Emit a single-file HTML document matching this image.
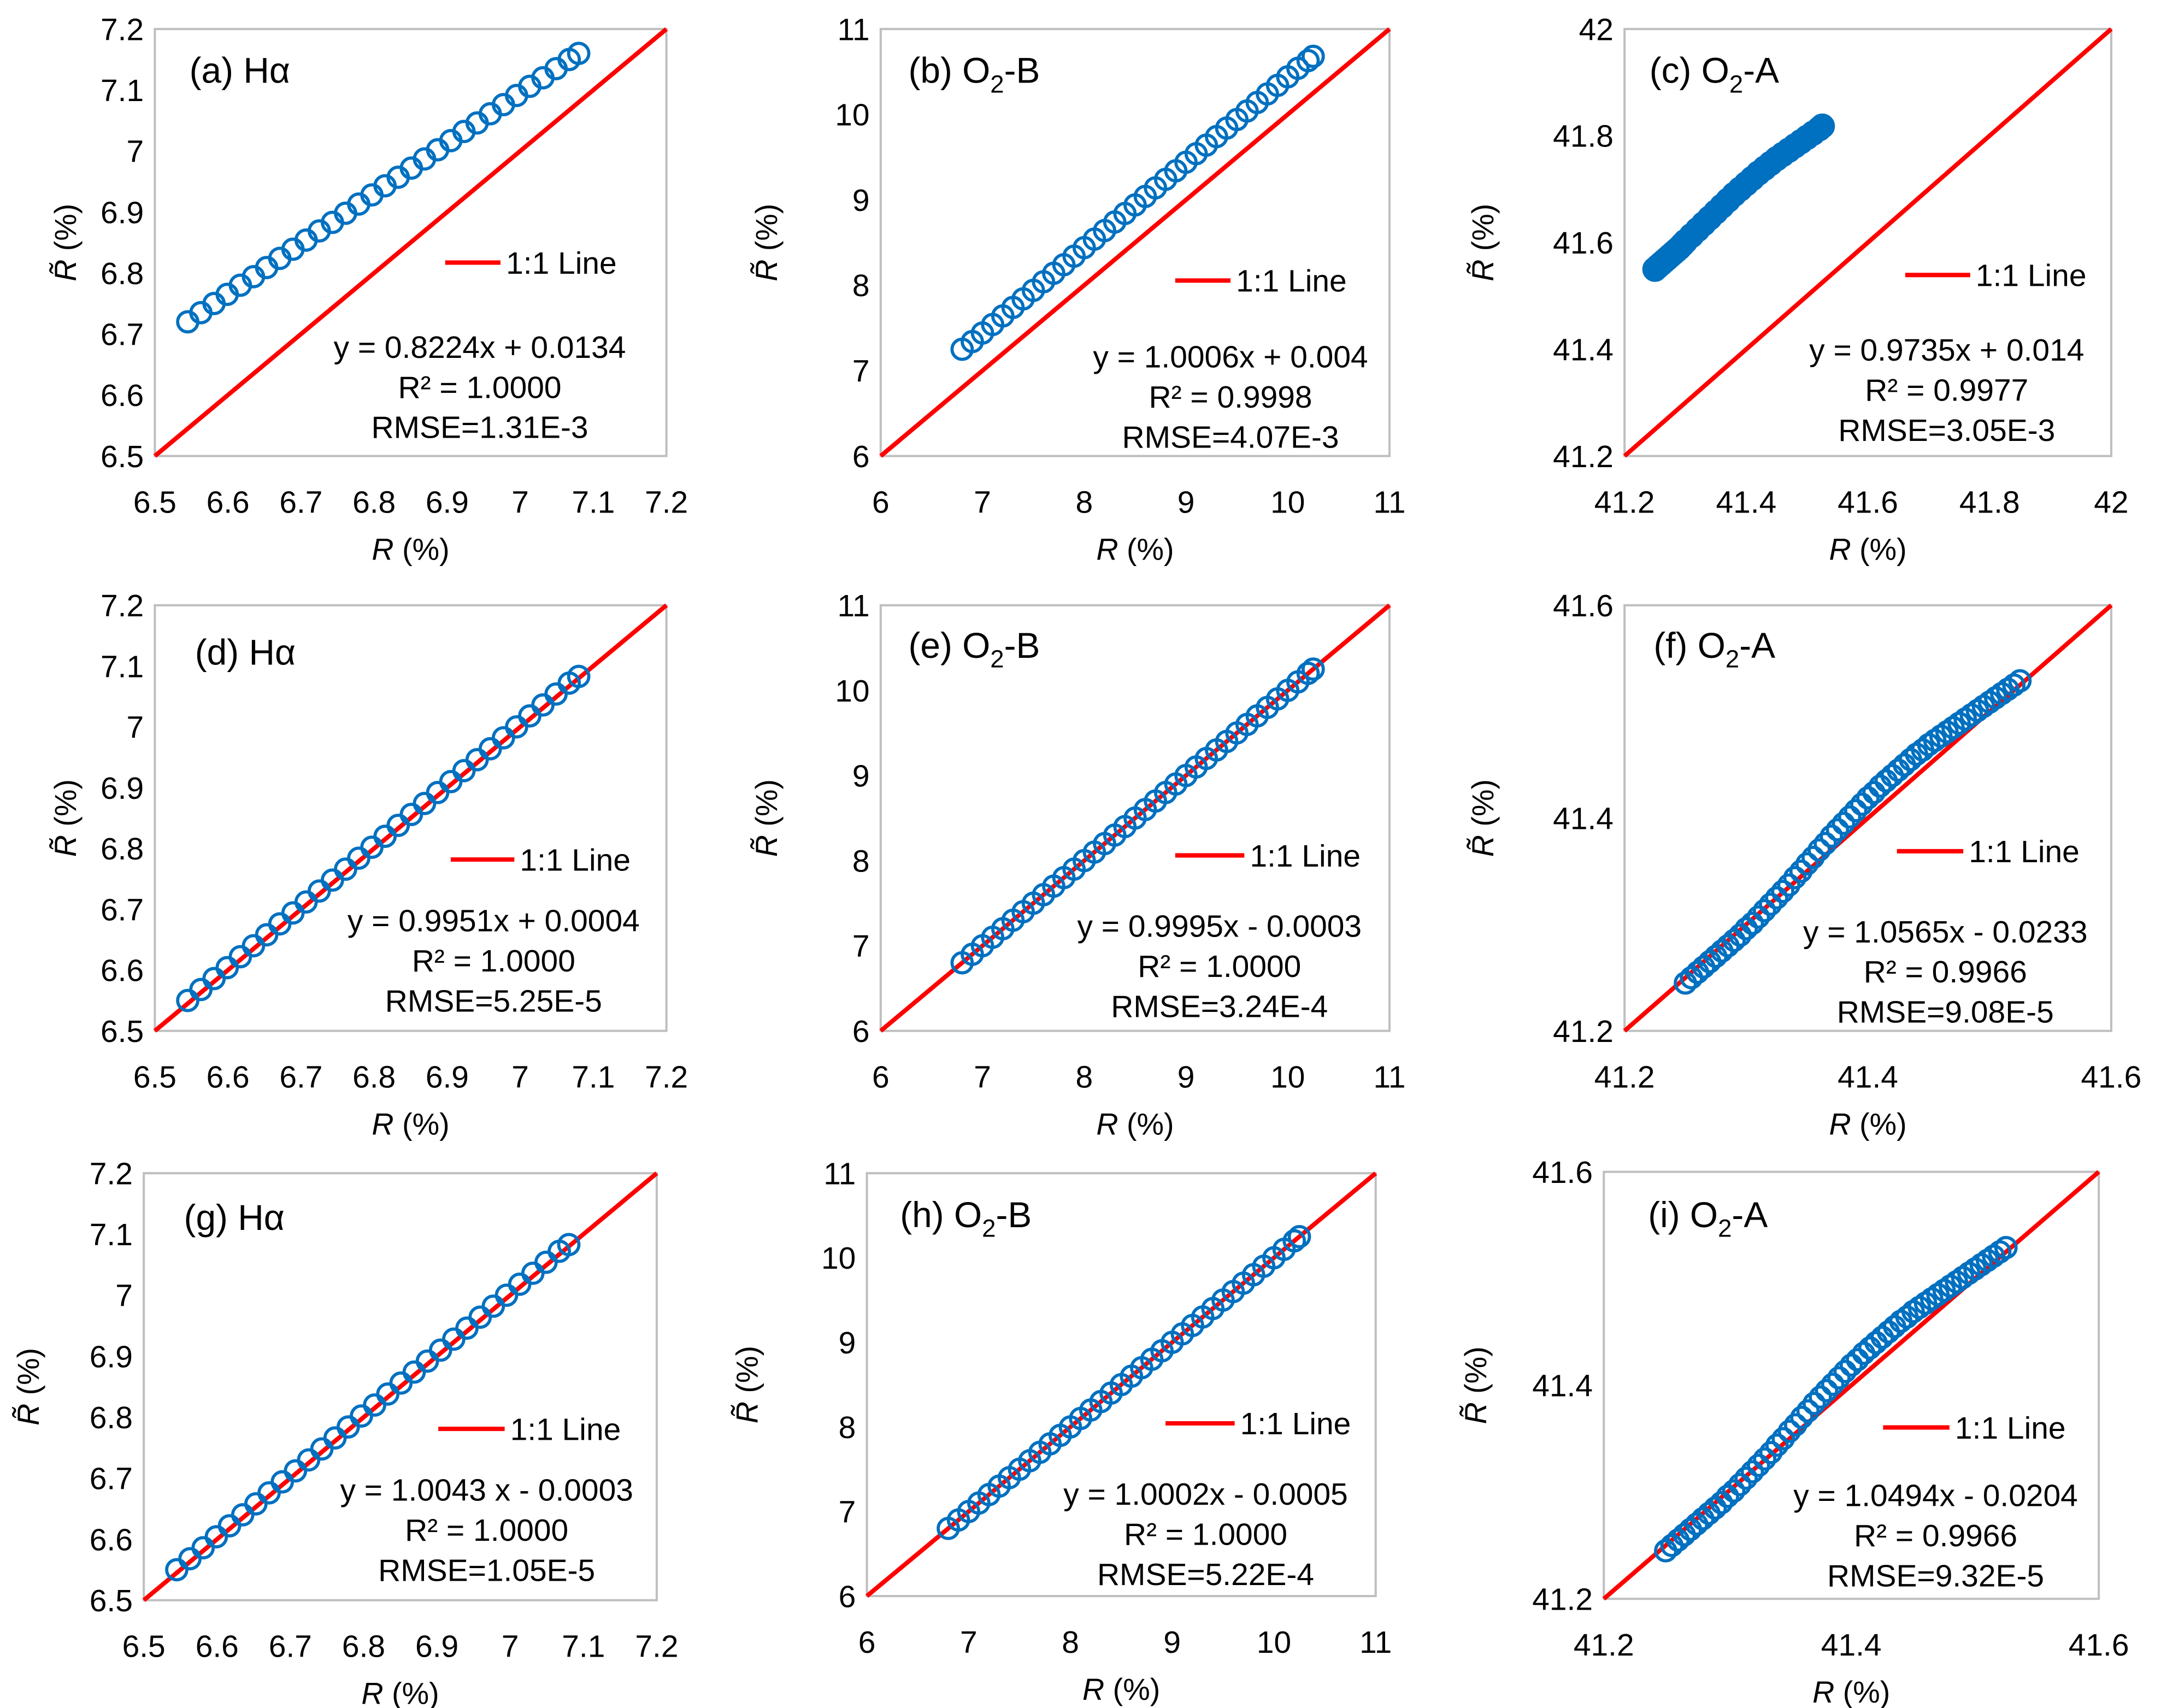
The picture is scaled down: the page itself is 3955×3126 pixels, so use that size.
<!DOCTYPE html>
<html><head><meta charset="utf-8"><style>
html,body{margin:0;padding:0;background:#fff;}
svg{display:block;}
text{font-family:"Liberation Sans","DejaVu Sans",sans-serif;fill:#000;}
</style></head><body>
<svg id="fig" width="3955" height="3126" viewBox="0 0 1563 1236" preserveAspectRatio="none" xmlns="http://www.w3.org/2000/svg"></svg>
<script>
// ---- data ----
const aX=[6.545,6.563,6.581,6.599,6.617,6.635,6.653,6.671,6.689,6.707,6.725,6.743,6.761,6.779,6.797,6.815,6.833,6.851,6.869,6.887,6.905,6.923,6.941,6.959,6.977,6.995,7.013,7.031,7.049,7.067,7.08];
const aY=[6.720,6.735,6.750,6.765,6.780,6.794,6.809,6.824,6.839,6.854,6.869,6.883,6.898,6.913,6.928,6.943,6.957,6.972,6.987,7.002,7.017,7.032,7.046,7.061,7.076,7.091,7.106,7.120,7.135,7.150,7.160];
const bX=[6.8,6.9,7.0,7.1,7.2,7.3,7.4,7.5,7.6,7.7,7.8,7.9,8.0,8.1,8.2,8.3,8.4,8.5,8.6,8.7,8.8,8.9,9.0,9.1,9.2,9.3,9.4,9.5,9.6,9.7,9.8,9.9,10.0,10.1,10.2,10.25];
const bY=[7.25,7.34,7.44,7.54,7.64,7.74,7.84,7.94,8.04,8.14,8.24,8.34,8.44,8.54,8.64,8.74,8.84,8.94,9.04,9.14,9.24,9.34,9.44,9.54,9.64,9.74,9.84,9.94,10.04,10.14,10.24,10.34,10.44,10.54,10.63,10.68];
const cX=[41.250,41.255,41.260,41.265,41.270,41.275,41.280,41.285,41.290,41.295,41.300,41.310,41.320,41.330,41.340,41.350,41.360,41.370,41.380,41.390,41.400,41.410,41.420,41.430,41.440,41.450,41.460,41.470,41.480,41.490,41.500,41.510,41.520,41.525];
const cY=[41.550,41.555,41.560,41.565,41.570,41.575,41.580,41.585,41.590,41.596,41.602,41.613,41.624,41.635,41.646,41.657,41.668,41.679,41.690,41.700,41.710,41.720,41.730,41.739,41.748,41.757,41.765,41.773,41.781,41.789,41.797,41.805,41.813,41.818];
const dX=aX.slice();
const dY=[6.550,6.568,6.586,6.604,6.622,6.640,6.658,6.676,6.694,6.712,6.730,6.748,6.766,6.784,6.802,6.820,6.838,6.856,6.874,6.892,6.910,6.928,6.946,6.964,6.982,7.000,7.018,7.036,7.054,7.072,7.083];
const eX=bX.slice();
const eY=[6.8,6.9,7.0,7.1,7.2,7.3,7.4,7.5,7.6,7.7,7.8,7.9,8.0,8.1,8.2,8.3,8.4,8.5,8.6,8.7,8.8,8.9,9.0,9.1,9.2,9.3,9.4,9.5,9.6,9.7,9.8,9.9,10.0,10.1,10.2,10.25];
const fX=[41.250,41.255,41.260,41.265,41.270,41.275,41.280,41.285,41.290,41.295,41.300,41.305,41.310,41.315,41.320,41.325,41.330,41.335,41.340,41.345,41.350,41.355,41.360,41.365,41.370,41.375,41.380,41.385,41.390,41.395,41.400,41.405,41.410,41.415,41.420,41.425,41.430,41.435,41.440,41.445,41.450,41.455,41.460,41.465,41.470,41.475,41.480,41.485,41.490,41.495,41.500,41.505,41.510,41.515,41.520,41.525];
const fY=[41.245,41.250,41.255,41.260,41.265,41.270,41.275,41.280,41.285,41.290,41.296,41.301,41.307,41.313,41.319,41.325,41.331,41.337,41.344,41.350,41.357,41.363,41.370,41.376,41.383,41.389,41.395,41.401,41.407,41.413,41.419,41.424,41.430,41.435,41.440,41.445,41.450,41.455,41.460,41.464,41.469,41.473,41.477,41.481,41.485,41.489,41.493,41.497,41.501,41.505,41.509,41.513,41.517,41.521,41.525,41.529];
const gX=aX.slice();
const gY=dY.slice();
const hX=bX.slice();
const hY=eY.slice();
const iX=fX.slice();
const iY=fY.slice();
// ---- ticks ----
const tickH=["6.5","6.6","6.7","6.8","6.9","7","7.1","7.2"];
const tickB=["6","7","8","9","10","11"];
const tickC=["41.2","41.4","41.6","41.8","42"];
const tickF=["41.2","41.4","41.6"];

const panels=[
 {id:"a",lab:"(a) Hα",L:112,R:482,T:21,B:330,tk:tickH,xs:aX,ys:aY,fill:false,lx:137,ly:60,lg:[322,362,190],eq:["y = 0.8224x + 0.0134","R² = 1.0000","RMSE=1.31E-3"],ex:347,ey:259,yt:57},
 {id:"b",lab:"(b) O",sub:"-B",L:637,R:1005,T:21,B:330,tk:tickB,xs:bX,ys:bY,fill:false,lx:657,ly:60,lg:[850,890,203],eq:["y = 1.0006x + 0.004","R² = 0.9998","RMSE=4.07E-3"],ex:890,ey:266,yt:75},
 {id:"c",lab:"(c) O",sub:"-A",L:1175,R:1527,T:21,B:330,tk:tickC,xs:cX,ys:cY,fill:true,lx:1193,ly:60,lg:[1378,1425,199],eq:["y = 0.9735x + 0.014","R² = 0.9977","RMSE=3.05E-3"],ex:1408,ey:261,yt:95},
 {id:"d",lab:"(d) Hα",L:112,R:482,T:438,B:746,tk:tickH,xs:dX,ys:dY,fill:false,lx:141,ly:481,lg:[326,372,622],eq:["y = 0.9951x + 0.0004","R² = 1.0000","RMSE=5.25E-5"],ex:357,ey:674,yt:57},
 {id:"e",lab:"(e) O",sub:"-B",L:637,R:1005,T:438,B:746,tk:tickB,xs:eX,ys:eY,fill:false,lx:657,ly:476,lg:[850,900,619],eq:["y = 0.9995x - 0.0003","R² = 1.0000","RMSE=3.24E-4"],ex:882,ey:678,yt:75},
 {id:"f",lab:"(f) O",sub:"-A",L:1175,R:1527,T:438,B:746,tk:tickF,xs:fX,ys:fY,fill:false,lx:1196,ly:476,lg:[1372,1420,616],eq:["y = 1.0565x - 0.0233","R² = 0.9966","RMSE=9.08E-5"],ex:1407,ey:682,yt:95},
 {id:"g",lab:"(g) Hα",L:104,R:475,T:849,B:1158,tk:tickH,xs:gX,ys:gY,fill:false,lx:133,ly:890,lg:[317,365,1034],eq:["y = 1.0043 x - 0.0003","R² = 1.0000","RMSE=1.05E-5"],ex:352,ey:1086,yt:76},
 {id:"h",lab:"(h) O",sub:"-B",L:627,R:995,T:849,B:1155,tk:tickB,xs:hX,ys:hY,fill:false,lx:651,ly:888,lg:[843,893,1030],eq:["y = 1.0002x - 0.0005","R² = 1.0000","RMSE=5.22E-4"],ex:872,ey:1089,yt:79},
 {id:"i",lab:"(i) O",sub:"-A",L:1160,R:1518,T:848,B:1157,tk:tickF,xs:iX,ys:iY,fill:false,lx:1192,ly:888,lg:[1362,1410,1033],eq:["y = 1.0494x - 0.0204","R² = 0.9966","RMSE=9.32E-5"],ex:1400,ey:1090,yt:85}
];
const NS="http://www.w3.org/2000/svg";
const svg=document.getElementById("fig");
function mk(tag,attrs,parent,txt){const e=document.createElementNS(NS,tag);for(const k in attrs)e.setAttribute(k,attrs[k]);if(txt!==undefined)e.textContent=txt;parent.appendChild(e);return e;}
panels.forEach(p=>{
  const g=mk("g",{},svg);
  
  
  const lo=parseFloat(p.tk[0]),hi=parseFloat(p.tk[p.tk.length-1]);
  const sx=v=>p.L+(v-lo)/(hi-lo)*(p.R-p.L);
  const sy=v=>p.B-(v-lo)/(hi-lo)*(p.B-p.T);
  const box=mk("rect",{x:p.L,y:p.T,width:p.R-p.L,height:p.B-p.T,fill:"none",stroke:"#bfbfbf","stroke-width":1.6},g);
  
  
  p.tk.forEach(t=>{
    const v=parseFloat(t);
    const yl=mk("text",{x:p.L-8,y:sy(v)+8,"font-size":22.5,"text-anchor":"end"},g,t);
    
    
    const xl=mk("text",{x:sx(v),y:p.B+41,"font-size":22.5,"text-anchor":"middle"},g,t);
    
    
  });
  const xt=mk("text",{x:(p.L+p.R)/2,y:p.B+75,"font-size":22,"text-anchor":"middle","font-family":"Liberation Serif, serif"},g);
  
  
  mk("tspan",{"font-style":"italic"},xt,"R");
  mk("tspan",{},xt," (%)");
  const cy=(p.T+p.B)/2, cx=p.L-p.yt;
  const yt=mk("text",{x:cx,y:cy,"font-size":22,"text-anchor":"middle","font-family":"Liberation Serif, serif",transform:`rotate(-90 ${cx} ${cy})`},g);
  
  
  mk("tspan",{"font-style":"italic"},yt,"R̃");
  mk("tspan",{},yt," (%)");
  const ln=mk("line",{x1:sx(lo),y1:sy(lo),x2:sx(hi),y2:sy(hi),stroke:"#ff0000","stroke-width":3.2},g);
  
  
  p.xs.forEach((x,i)=>{
    const c=mk("circle",{cx:sx(x),cy:sy(p.ys[i]),r:p.fill?8:7.3,fill:p.fill?"#0070c0":"none",stroke:"#0070c0","stroke-width":2.3},g);
    
    
  });
  const lb=mk("text",{x:p.lx,y:p.ly,"font-size":26},g);
  
  
  mk("tspan",{},lb,p.lab);
  if(p.sub){mk("tspan",{"font-size":18,dy:7},lb,"2");mk("tspan",{dy:-7},lb,p.sub);}
  const lgl=mk("line",{x1:p.lg[0],y1:p.lg[2],x2:p.lg[1],y2:p.lg[2],stroke:"#ff0000","stroke-width":3.2},g);
  
  
  const lgt=mk("text",{x:p.lg[1]+4,y:p.lg[2]+8,"font-size":22.5},g,"1:1 Line");
  
  
  p.eq.forEach((s,k)=>{
    const t=mk("text",{x:p.ex,y:p.ey+k*29,"font-size":22.5,"text-anchor":"middle"},g,s);
    
    
  });
});
</script>
</body></html>
